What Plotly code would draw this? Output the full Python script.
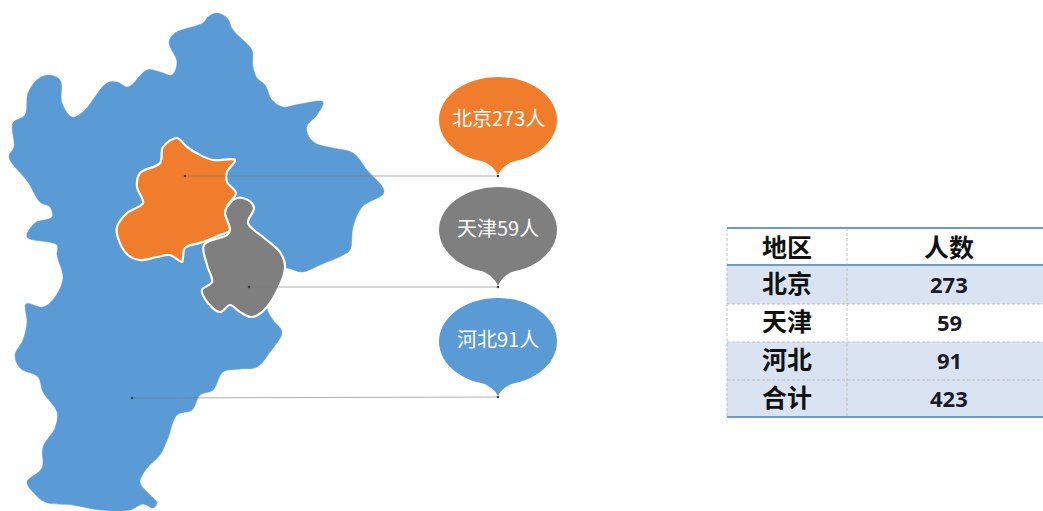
import plotly.graph_objects as go

# Region outlines (pixel-scale map units)
hebei_x = [217,227,233,245,252,253,257,265,272,283,300,323,317,307,308,315,333,353,367,384,362,353,350,343,320,302,287,283,267,273,282,270,257,240,223,213,200,192,177,168,160,147,140,147,157,153,143,130,100,73,45,33,27,42,43,55,57,43,38,20,15,23,27,26,43,55,63,57,57,27,35,52,50,40,28,9,14,13,25,28,37,48,60,62,72,83,107,117,128,147,160,172,177,169,175,203,208,217]
hebei_y = [13,18,30,42,50,67,78,85,100,107,104,102,115,126,135,143,148,153,170,192,207,227,250,255,265,272,268,270,307,320,332,352,367,369,372,390,395,410,415,438,455,468,482,492,503,508,504,510,510,505,502,492,482,468,447,428,412,392,377,368,355,340,322,304,307,297,278,255,245,237,223,217,207,202,182,157,147,123,115,93,80,75,80,103,117,112,83,82,87,70,72,75,62,42,33,23,17,13]
beijing_x = [177,187,200,213,235,227,227,236,227,230,220,203,185,183,182,170,157,140,128,118,117,127,143,137,140,160,163,177]
beijing_y = [138,147,155,160,160,172,182,193,207,230,235,242,248,257,262,255,257,260,255,238,227,213,203,187,173,163,147,138]
tianjin_x = [237,248,254,248,263,280,285,267,252,240,230,220,208,202,212,207,204,227,230,225,227,237]
tianjin_y = [198,200,208,223,237,252,268,307,317,312,305,312,303,290,282,265,245,235,230,213,207,198]

# Callouts
callout_text = ["北京273人", "天津59人", "河北91人"]
callout_top = [77, 187, 298]
callout_bottom = [163, 273, 385]
callout_tip = [176, 287, 397]
callout_color = ["#EF7D2C", "#7F7F7F", "#5B9BD5"]
leader_start_x = [185, 249, 132]
leader_y = [176, 287, 398]

# Table
table_head = ["地区", "人数"]
table_regions = ["北京", "天津", "河北", "合计"]
table_counts = ["273", "59", "91", "423"]
row_edges = [228, 265, 304, 342, 380, 417]
row_fill = ["#FFFFFF", "#D9E3F1", "#FFFFFF", "#D9E3F1", "#D9E3F1"]

BLUE, ORANGE, GREY = "#5B9BD5", "#EF7D2C", "#7F7F7F"
CJK = "Noto Sans CJK SC"
shapes, annotations = [], []
fig = go.Figure()

def region(x, y, color, edge, w):
    fig.add_trace(go.Scatter(x=x, y=y, mode="lines", fill="toself", fillcolor=color,
                             line=dict(color=edge, width=w, shape="spline", smoothing=1.0),
                             hoverinfo="skip", showlegend=False))

region(hebei_x, hebei_y, BLUE, BLUE, 0.5)
region(beijing_x, beijing_y, ORANGE, "#FFFFFF", 2.2)
region(tianjin_x, tianjin_y, GREY, "#FFFFFF", 2.2)

for label, top, bot, tip, col, sx, ly in zip(callout_text, callout_top, callout_bottom, callout_tip,
                                            callout_color, leader_start_x, leader_y):
    shapes.append(dict(type="circle", x0=439, x1=557, y0=top, y1=bot, fillcolor=col, line_width=0, layer="above"))
    shapes.append(dict(type="path", path=f"M 478 {bot-4} Q 494 {bot+2} 498 {tip-1} Q 502 {bot+2} 518 {bot-4} Z",
                       fillcolor=col, line_width=0, layer="above"))
    fig.add_trace(go.Scatter(x=[sx, 498], y=[ly, tip], mode="lines+markers",
                             line=dict(color="#7A7A7A", width=0.6),
                             marker=dict(color="#404040", size=2.5),
                             hoverinfo="skip", showlegend=False))
    annotations.append(dict(x=498, y=(top + bot) / 2 - 3, text=label, showarrow=False,
                            font=dict(family=CJK, size=20, color="#FFFFFF")))

# table
for i, fill in enumerate(row_fill):
    shapes.append(dict(type="rect", x0=727, x1=1043, y0=row_edges[i], y1=row_edges[i + 1],
                       fillcolor=fill, line_width=0, layer="below"))
for e in row_edges[2:5]:
    shapes.append(dict(type="line", x0=727, x1=1043, y0=e, y1=e,
                       line=dict(color="#BDBDBD", width=1, dash="3px,2px")))
for xv in [727, 847]:
    shapes.append(dict(type="line", x0=xv, x1=xv, y0=228, y1=417,
                       line=dict(color="#BDBDBD", width=1, dash="3px,2px")))
for e in [row_edges[0], row_edges[1], row_edges[5]]:
    shapes.append(dict(type="line", x0=727, x1=1043, y0=e, y1=e, line=dict(color="#6A9BD3", width=2.2)))

centers = [(row_edges[i] + row_edges[i + 1]) / 2 for i in range(5)]
annotations.append(dict(x=787, y=centers[0] - 1, text=f"<b>{table_head[0]}</b>", showarrow=False,
                        font=dict(family=CJK, size=25, color="#111111")))
annotations.append(dict(x=949, y=centers[0] - 1, text=f"<b>{table_head[1]}</b>", showarrow=False,
                        font=dict(family=CJK, size=25, color="#111111")))
for reg, cnt, c in zip(table_regions, table_counts, centers[1:]):
    annotations.append(dict(x=787, y=c - 3, text=f"<b>{reg}</b>", showarrow=False,
                            font=dict(family=CJK, size=25, color="#111111")))
    annotations.append(dict(x=949, y=c - 1, text=f"<b>{cnt}</b>", showarrow=False,
                            font=dict(family="Open Sans", size=22, color="#1A1A2A")))

fig.update_layout(width=1043, height=511, margin=dict(l=0, r=0, t=0, b=0),
                  paper_bgcolor="#FFFFFF", plot_bgcolor="#FFFFFF",
                  shapes=shapes, annotations=annotations, showlegend=False,
                  xaxis=dict(range=[0, 1043], visible=False, fixedrange=True),
                  yaxis=dict(range=[511, 0], visible=False, fixedrange=True))
fig.write_html("out.html", config={"displayModeBar": False},
               post_script="document.body.style.margin='0';")
